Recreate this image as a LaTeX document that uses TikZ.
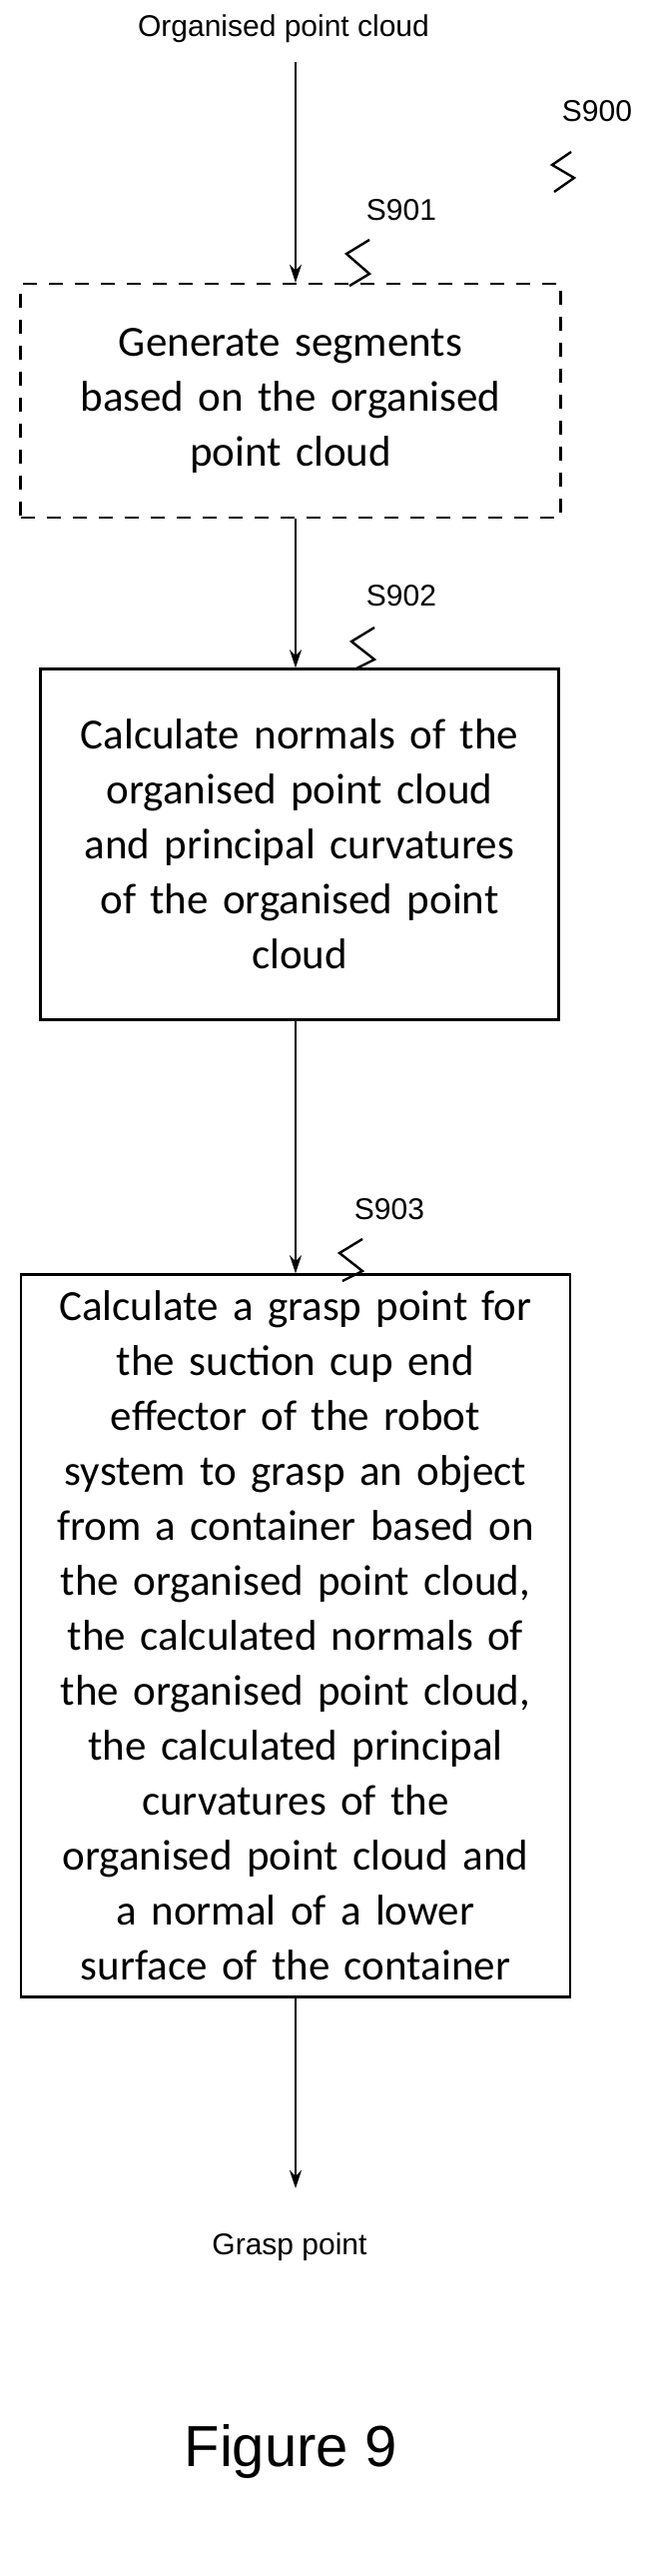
\documentclass[tikz,border=0pt]{standalone}
\usepackage{fontspec}
\setmainfont{Carlito}
\newfontfamily\lblfont{Liberation Sans}
\usetikzlibrary{arrows.meta, positioning}
\tikzset{
  step/.style={draw, line width=2.4pt, align=center, minimum width=#1, inner sep=6pt,
    font=\fontsize{43}{55}\selectfont},
  lbl/.style={font=\lblfont\fontsize{30}{34}\selectfont},
  flow/.style={-{Stealth[length=18pt, width=12pt]}, line width=2.4pt},
  squig/.style={line width=2.4pt}
}
\begin{document}
\begin{tikzpicture}[x=1pt, y=-1pt]
    \useasboundingbox (0,0) rectangle (664,2578);

    \node[lbl] (in) at (284,29) {Organised point cloud};

    \node[step=541pt, minimum height=234pt, dashed, dash pattern=on 14pt off 12pt, text width=500pt] (s1) at (291,401)
        {Generate segments\\based on the organised\\point cloud};
    \node[step=519pt, minimum height=351pt, text width=500pt] (s2) at (300,845)
        {Calculate normals of the\\organised point cloud\\and principal curvatures\\of the organised point\\cloud};
    \node[step=550pt, minimum height=723pt, text width=530pt] (s3) at (296,1637)
        {Calculate a grasp point for\\the suction cup end\\effector of the robot\\system to grasp an object\\from a container based on\\the organised point cloud,\\the calculated normals of\\the organised point cloud,\\the calculated principal\\curvatures of the\\organised point cloud and\\a normal of a lower\\surface of the container};

    \node[lbl] (out) at (290,2249) {Grasp point};

    \coordinate (a0) at (296,62);
    \coordinate (a3) at (296,2190);
    \draw[flow] (a0) -- (a0 |- s1.north);
    \draw[flow] (a0 |- s1.south) -- (a0 |- s2.north);
    \draw[flow] (a0 |- s2.south) -- (a0 |- s3.north);
    \draw[flow] (a0 |- s3.south) -- (a3);

    % step labels with squiggles
    \node[lbl] (l900) at (598,111) {S900};
    \node[lbl] (l901) at (402,210) {S901};
    \node[lbl] (l902) at (402,596) {S902};
    \node[lbl] (l903) at (390,1210) {S903};
    \draw[squig] (572,152) -- (553,165) -- (575,178) -- (555,192);
    \draw[squig] (370,240) -- (347,254) -- (370,274) -- (350,286);
    \draw[squig] (375,628) -- (352,642) -- (375,660) -- (355,670);
    \draw[squig] (363,1240) -- (340,1254) -- (363,1272) -- (343,1282);

    \node[font=\lblfont\fontsize{58}{66}\selectfont] (fig) at (291,2453) {Figure 9};
\end{tikzpicture}
\end{document}
